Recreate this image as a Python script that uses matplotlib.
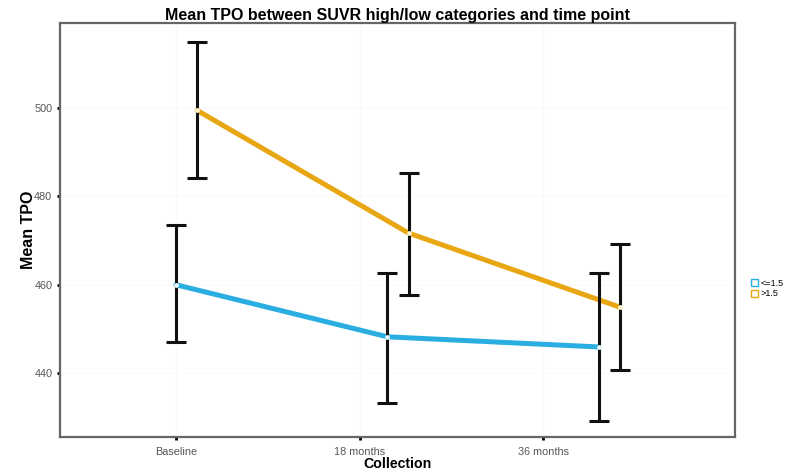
import matplotlib

matplotlib.use("Agg")
import matplotlib.pyplot as plt
import numpy as np
from matplotlib.patches import Patch

# data
collections = ["Baseline", "18 months", "36 months"]
groups = ["<=1.5", ">1.5"]
mean_low = [460.0, 448.2, 445.9]
lower_low = [447.1, 433.2, 429.1]
upper_low = [473.6, 462.6, 462.6]
mean_high = [499.5, 471.7, 454.9]
lower_high = [484.1, 457.7, 440.7]
upper_high = [514.9, 485.3, 469.2]

colors = ["#2AAEE2", "#E8A712"]
point_colors = ["#E6F6FC", "#FFF4CC"]

plt.rcParams["font.family"] = ["Liberation Sans", "DejaVu Sans"]

fig = plt.figure(figsize=(7.98, 4.73), dpi=100)
ax = fig.add_axes([0.0752, 0.0761, 0.8458, 0.8753])

x = np.arange(len(collections))
dodge = 0.1
series = [
    (mean_low, lower_low, upper_low),
    (mean_high, lower_high, upper_high),
]

for i, (mean, lo, hi) in enumerate(series):
    xs = x + i * dodge
    mean = np.array(mean)
    err = [mean - np.array(lo), np.array(hi) - mean]
    ax.plot(xs, mean, color=colors[i], lw=3.6, solid_capstyle="round", zorder=2)
    ax.errorbar(xs, mean, yerr=err, fmt="none", ecolor="#111111",
                elinewidth=2.2, capsize=7.5, capthick=2.2, zorder=3)
    ax.plot(xs, mean, "o", ms=3.5, color=point_colors[i], mec="none", zorder=4)

# ticks sit a bit left of the plotted points in the reference
tick_spread = 0.868
ax.set_xticks(x * tick_spread)
ax.set_xticklabels(collections)
ax.set_xlim(-0.548, 2.643)
ax.set_ylim(425.5, 519.3)
ax.set_yticks([440, 460, 480, 500])

ax.grid(True, color="#FAFAFA", lw=0.8)
ax.set_axisbelow(True)
for s in ax.spines.values():
    s.set_color("#666666")
    s.set_linewidth(1.6)
ax.tick_params(length=2.5, width=2, color="black", labelsize=7.8,
               labelcolor="#555555", pad=3)
ax.tick_params(axis="x", pad=5)

ax.set_title("Mean TPO between SUVR high/low categories and time point",
             fontsize=11.5, fontweight="bold", pad=0.5)
ax.set_ylabel("Mean TPO", fontsize=11.5, fontweight="bold", labelpad=-1)
ax.set_xlabel("Collection", fontsize=10.2, fontweight="bold", labelpad=0)

handles = [Patch(facecolor="white", edgecolor=c, lw=1) for c in colors]
fig.legend(handles, groups, loc="center left", bbox_to_anchor=(0.935, 0.39),
           frameon=False, fontsize=6.5, handlelength=0.8, handleheight=0.8,
           handletextpad=0.3, labelspacing=0.2, borderpad=0)

fig.savefig("out.png", dpi=100)
plt.close(fig)
